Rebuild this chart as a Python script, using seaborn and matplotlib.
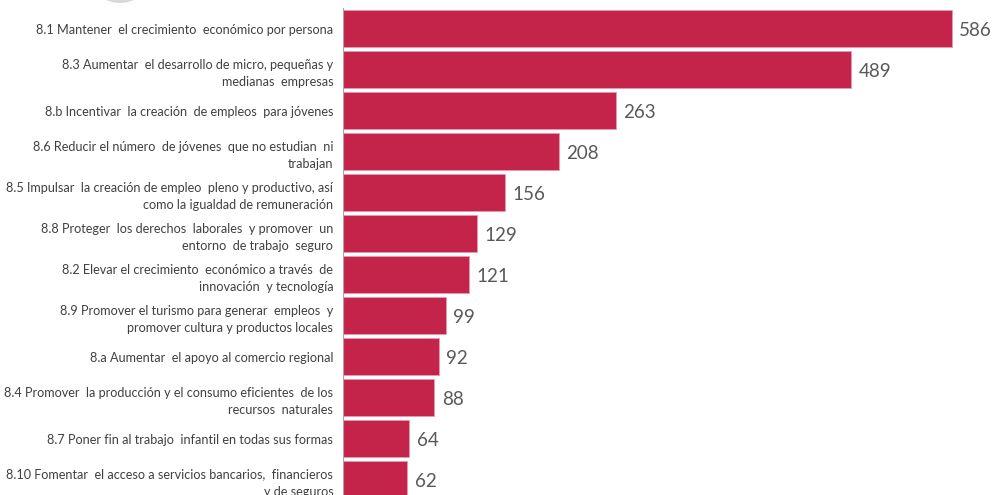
import numpy as np
import pandas as pd
import matplotlib
matplotlib.use("Agg")
import matplotlib.pyplot as plt
import seaborn as sns
from matplotlib.patches import Ellipse

# Metas del ODS 8 y número de menciones
metas = [
    "8.1 Mantener  el crecimiento  económico por persona",
    "8.3 Aumentar  el desarrollo de micro, pequeñas y\nmedianas  empresas",
    "8.b Incentivar  la creación  de empleos  para jóvenes",
    "8.6 Reducir el número  de jóvenes  que no estudian  ni\ntrabajan",
    "8.5 Impulsar  la creación de empleo  pleno y productivo, así\ncomo la igualdad de remuneración",
    "8.8 Proteger  los derechos  laborales  y promover  un\nentorno  de trabajo  seguro",
    "8.2 Elevar el crecimiento  económico a través  de\ninnovación  y tecnología",
    "8.9 Promover el turismo para generar  empleos  y\npromover cultura y productos locales",
    "8.a Aumentar  el apoyo al comercio regional",
    "8.4 Promover  la producción y el consumo eficientes  de los\nrecursos  naturales",
    "8.7 Poner fin al trabajo  infantil en todas sus formas",
    "8.10 Fomentar  el acceso a servicios bancarios,  financieros\ny de seguros",
]
menciones = [586, 489, 263, 208, 156, 129, 121, 99, 92, 88, 64, 62]

df = pd.DataFrame({"meta": metas, "menciones": menciones})

sns.set_theme(style="white")
plt.rcParams["font.family"] = ["Lato", "DejaVu Sans"]

W, H = 993, 495
fig = plt.figure(figsize=(W / 100, H / 100), dpi=100)
ax = fig.add_axes([343 / W, -5 / H, (W - 343) / W, 492 / H])

sns.barplot(data=df, x="menciones", y="meta", orient="h", color="#C4244A",
            saturation=1, width=0.9, edgecolor="#E89AAE", linewidth=0.6, ax=ax)

ax.set_xlim(0, 650 / 1.039)
ax.set_ylim(len(metas) - 0.5, -0.5)
ax.set_xlabel("")
ax.set_ylabel("")
ax.set_xticks([])

# etiquetas de valor
for i, v in enumerate(menciones):
    ax.text(v + 7, i + 0.06, str(v), va="center", ha="left", fontsize=13.5, color="#595959")

# ejes: solo línea vertical izquierda con marcas entre categorías
for s in ["top", "right", "bottom"]:
    ax.spines[s].set_visible(False)
ax.spines["left"].set_color("#A6A6A6")
ax.spines["left"].set_linewidth(0.8)
ax.tick_params(axis="y", which="major", length=0, pad=7, labelsize=9.1, labelcolor="#404040")
ax.set_yticks(np.arange(len(metas) + 1) - 0.5, minor=True)
ax.tick_params(axis="y", which="minor", length=4, color="#A6A6A6", width=0.8, direction="out")
for lbl in ax.get_yticklabels():
    lbl.set_horizontalalignment("right")
    lbl.set_multialignment("right")
    lbl.set_linespacing(1.5)

# sombra decorativa de la esquina superior
fig.patches.append(Ellipse((120 / W, 1 + 14 / H), 48 / W, 34 / H, transform=fig.transFigure,
                           facecolor="#BFBFBF", edgecolor="none", alpha=0.6, zorder=0))

fig.savefig("out.png", dpi=100)
